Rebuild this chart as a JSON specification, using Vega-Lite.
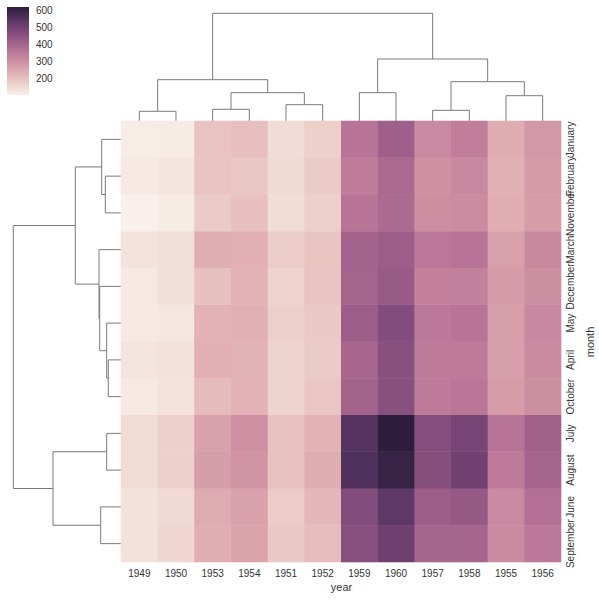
{
  "$schema": "https://vega.github.io/schema/vega-lite/v6.json",
  "background": "white",
  "padding": {"left": 7, "top": 7, "right": 2, "bottom": 2},
  "config": {
    "font": "Liberation Sans",
    "view": {"stroke": null},
    "axis": {"labelColor": "#333333", "titleColor": "#333333", "labelFont": "Liberation Sans", "titleFont": "Liberation Sans", "titleFontWeight": "normal"},
    "legend": {"labelColor": "#333333", "labelFont": "Liberation Sans"}
  },
  "datasets": {
    "topdend": [
      {"xl": 0.5, "xr": 1.5, "dl": 0, "dr": 0, "h": 9.7},
      {"xl": 2.5, "xr": 3.5, "dl": 0, "dr": 0, "h": 11.7},
      {"xl": 4.5, "xr": 5.5, "dl": 0, "dr": 0, "h": 16.3},
      {"xl": 3.0, "xr": 5.0, "dl": 11.7, "dr": 16.3, "h": 28.3},
      {"xl": 1.0, "xr": 4.0, "dl": 9.7, "dr": 28.3, "h": 41.3},
      {"xl": 6.5, "xr": 7.5, "dl": 0, "dr": 0, "h": 28.3},
      {"xl": 8.5, "xr": 9.5, "dl": 0, "dr": 0, "h": 10.7},
      {"xl": 10.5, "xr": 11.5, "dl": 0, "dr": 0, "h": 25.3},
      {"xl": 9.0, "xr": 11.0, "dl": 10.7, "dr": 25.3, "h": 39.3},
      {"xl": 7.0, "xr": 10.0, "dl": 28.3, "dr": 39.3, "h": 62},
      {"xl": 2.5, "xr": 8.5, "dl": 41.3, "dr": 62, "h": 107.7}
    ],
    "leftdend": [
      {"pl": 1.5, "pr": 2.5, "dl": 0, "dr": 0, "h": 15.7},
      {"pl": 0.5, "pr": 2.0, "dl": 0, "dr": 15.7, "h": 19.3},
      {"pl": 6.5, "pr": 7.5, "dl": 0, "dr": 0, "h": 12.7},
      {"pl": 5.5, "pr": 7.0, "dl": 0, "dr": 12.7, "h": 14.3},
      {"pl": 4.5, "pr": 6.25, "dl": 0, "dr": 14.3, "h": 21.3},
      {"pl": 3.5, "pr": 5.375, "dl": 0, "dr": 21.3, "h": 22},
      {"pl": 1.25, "pr": 4.4375, "dl": 19.3, "dr": 22, "h": 45.7},
      {"pl": 8.5, "pr": 9.5, "dl": 0, "dr": 0, "h": 14.3},
      {"pl": 10.5, "pr": 11.5, "dl": 0, "dr": 0, "h": 20.3},
      {"pl": 9.0, "pr": 11.0, "dl": 14.3, "dr": 20.3, "h": 68},
      {"pl": 2.84375, "pr": 10.0, "dl": 45.7, "dr": 68, "h": 107.7}
    ],
    "flights": [
      {"year":"1949","month":"January","passengers":112},{"year":"1949","month":"February","passengers":118},{"year":"1949","month":"March","passengers":132},{"year":"1949","month":"April","passengers":129},{"year":"1949","month":"May","passengers":121},{"year":"1949","month":"June","passengers":135},{"year":"1949","month":"July","passengers":148},{"year":"1949","month":"August","passengers":148},{"year":"1949","month":"September","passengers":136},{"year":"1949","month":"October","passengers":119},{"year":"1949","month":"November","passengers":104},{"year":"1949","month":"December","passengers":118},
      {"year":"1950","month":"January","passengers":115},{"year":"1950","month":"February","passengers":126},{"year":"1950","month":"March","passengers":141},{"year":"1950","month":"April","passengers":135},{"year":"1950","month":"May","passengers":125},{"year":"1950","month":"June","passengers":149},{"year":"1950","month":"July","passengers":170},{"year":"1950","month":"August","passengers":170},{"year":"1950","month":"September","passengers":158},{"year":"1950","month":"October","passengers":133},{"year":"1950","month":"November","passengers":114},{"year":"1950","month":"December","passengers":140},
      {"year":"1951","month":"January","passengers":145},{"year":"1951","month":"February","passengers":150},{"year":"1951","month":"March","passengers":178},{"year":"1951","month":"April","passengers":163},{"year":"1951","month":"May","passengers":172},{"year":"1951","month":"June","passengers":178},{"year":"1951","month":"July","passengers":199},{"year":"1951","month":"August","passengers":199},{"year":"1951","month":"September","passengers":184},{"year":"1951","month":"October","passengers":162},{"year":"1951","month":"November","passengers":146},{"year":"1951","month":"December","passengers":166},
      {"year":"1952","month":"January","passengers":171},{"year":"1952","month":"February","passengers":180},{"year":"1952","month":"March","passengers":193},{"year":"1952","month":"April","passengers":181},{"year":"1952","month":"May","passengers":183},{"year":"1952","month":"June","passengers":218},{"year":"1952","month":"July","passengers":230},{"year":"1952","month":"August","passengers":242},{"year":"1952","month":"September","passengers":209},{"year":"1952","month":"October","passengers":191},{"year":"1952","month":"November","passengers":172},{"year":"1952","month":"December","passengers":194},
      {"year":"1953","month":"January","passengers":196},{"year":"1953","month":"February","passengers":196},{"year":"1953","month":"March","passengers":236},{"year":"1953","month":"April","passengers":235},{"year":"1953","month":"May","passengers":229},{"year":"1953","month":"June","passengers":243},{"year":"1953","month":"July","passengers":264},{"year":"1953","month":"August","passengers":272},{"year":"1953","month":"September","passengers":237},{"year":"1953","month":"October","passengers":211},{"year":"1953","month":"November","passengers":180},{"year":"1953","month":"December","passengers":201},
      {"year":"1954","month":"January","passengers":204},{"year":"1954","month":"February","passengers":188},{"year":"1954","month":"March","passengers":235},{"year":"1954","month":"April","passengers":227},{"year":"1954","month":"May","passengers":234},{"year":"1954","month":"June","passengers":264},{"year":"1954","month":"July","passengers":302},{"year":"1954","month":"August","passengers":293},{"year":"1954","month":"September","passengers":259},{"year":"1954","month":"October","passengers":229},{"year":"1954","month":"November","passengers":203},{"year":"1954","month":"December","passengers":229},
      {"year":"1955","month":"January","passengers":242},{"year":"1955","month":"February","passengers":233},{"year":"1955","month":"March","passengers":267},{"year":"1955","month":"April","passengers":269},{"year":"1955","month":"May","passengers":270},{"year":"1955","month":"June","passengers":315},{"year":"1955","month":"July","passengers":364},{"year":"1955","month":"August","passengers":347},{"year":"1955","month":"September","passengers":312},{"year":"1955","month":"October","passengers":274},{"year":"1955","month":"November","passengers":237},{"year":"1955","month":"December","passengers":278},
      {"year":"1956","month":"January","passengers":284},{"year":"1956","month":"February","passengers":277},{"year":"1956","month":"March","passengers":317},{"year":"1956","month":"April","passengers":313},{"year":"1956","month":"May","passengers":318},{"year":"1956","month":"June","passengers":374},{"year":"1956","month":"July","passengers":413},{"year":"1956","month":"August","passengers":405},{"year":"1956","month":"September","passengers":355},{"year":"1956","month":"October","passengers":306},{"year":"1956","month":"November","passengers":271},{"year":"1956","month":"December","passengers":306},
      {"year":"1957","month":"January","passengers":315},{"year":"1957","month":"February","passengers":301},{"year":"1957","month":"March","passengers":356},{"year":"1957","month":"April","passengers":348},{"year":"1957","month":"May","passengers":355},{"year":"1957","month":"June","passengers":422},{"year":"1957","month":"July","passengers":465},{"year":"1957","month":"August","passengers":467},{"year":"1957","month":"September","passengers":404},{"year":"1957","month":"October","passengers":347},{"year":"1957","month":"November","passengers":305},{"year":"1957","month":"December","passengers":336},
      {"year":"1958","month":"January","passengers":340},{"year":"1958","month":"February","passengers":318},{"year":"1958","month":"March","passengers":362},{"year":"1958","month":"April","passengers":348},{"year":"1958","month":"May","passengers":363},{"year":"1958","month":"June","passengers":435},{"year":"1958","month":"July","passengers":491},{"year":"1958","month":"August","passengers":505},{"year":"1958","month":"September","passengers":404},{"year":"1958","month":"October","passengers":359},{"year":"1958","month":"November","passengers":310},{"year":"1958","month":"December","passengers":337},
      {"year":"1959","month":"January","passengers":360},{"year":"1959","month":"February","passengers":342},{"year":"1959","month":"March","passengers":406},{"year":"1959","month":"April","passengers":396},{"year":"1959","month":"May","passengers":420},{"year":"1959","month":"June","passengers":472},{"year":"1959","month":"July","passengers":548},{"year":"1959","month":"August","passengers":559},{"year":"1959","month":"September","passengers":463},{"year":"1959","month":"October","passengers":407},{"year":"1959","month":"November","passengers":362},{"year":"1959","month":"December","passengers":405},
      {"year":"1960","month":"January","passengers":417},{"year":"1960","month":"February","passengers":391},{"year":"1960","month":"March","passengers":419},{"year":"1960","month":"April","passengers":461},{"year":"1960","month":"May","passengers":472},{"year":"1960","month":"June","passengers":535},{"year":"1960","month":"July","passengers":622},{"year":"1960","month":"August","passengers":606},{"year":"1960","month":"September","passengers":508},{"year":"1960","month":"October","passengers":461},{"year":"1960","month":"November","passengers":390},{"year":"1960","month":"December","passengers":432}
    ]
  },
  "bounds": "flush",
  "spacing": 0,
  "resolve": {"scale": {"color": "independent"}, "legend": {"color": "independent"}},
  "vconcat": [
    {
      "width": 548,
      "height": 108,
      "data": {"name": "topdend"},
      "layer": [
        {"mark": {"type": "rule", "color": "#7a7a7a", "strokeWidth": 1},
         "encoding": {
           "x": {"field": "xl", "type": "quantitative", "axis": null, "scale": {"domain": [-2.945, 12], "nice": false, "zero": false}},
           "y": {"field": "dl", "type": "quantitative", "axis": null, "scale": {"domain": [0, 108], "nice": false}},
           "y2": {"field": "h"}}},
        {"mark": {"type": "rule", "color": "#7a7a7a", "strokeWidth": 1},
         "encoding": {
           "x": {"field": "xr", "type": "quantitative", "axis": null},
           "y": {"field": "dr", "type": "quantitative", "axis": null},
           "y2": {"field": "h"}}},
        {"mark": {"type": "rule", "color": "#7a7a7a", "strokeWidth": 1},
         "encoding": {
           "x": {"field": "xl", "type": "quantitative", "axis": null},
           "x2": {"field": "xr"},
           "y": {"field": "h", "type": "quantitative", "axis": null}}}
      ]
    },
    {
      "bounds": "flush",
      "spacing": 0,
      "resolve": {"scale": {"color": "independent"}, "legend": {"color": "independent"}},
      "hconcat": [
        {
          "width": 108,
          "height": 441,
          "data": {"name": "leftdend"},
          "layer": [
            {"mark": {"type": "rule", "color": "#7a7a7a", "strokeWidth": 1},
             "encoding": {
               "y": {"field": "pl", "type": "quantitative", "axis": null, "scale": {"domain": [0, 12], "nice": false, "reverse": true}},
               "x": {"field": "dl", "type": "quantitative", "axis": null, "scale": {"domain": [0, 108], "nice": false, "reverse": true}},
               "x2": {"field": "h"}}},
            {"mark": {"type": "rule", "color": "#7a7a7a", "strokeWidth": 1},
             "encoding": {
               "y": {"field": "pr", "type": "quantitative", "axis": null},
               "x": {"field": "dr", "type": "quantitative", "axis": null},
               "x2": {"field": "h"}}},
            {"mark": {"type": "rule", "color": "#7a7a7a", "strokeWidth": 1},
             "encoding": {
               "y": {"field": "pl", "type": "quantitative", "axis": null},
               "y2": {"field": "pr"},
               "x": {"field": "h", "type": "quantitative", "axis": null}}}
          ]
        },
        {
          "width": 440,
          "height": 441,
          "data": {"name": "flights"},
          "resolve": {"scale": {"color": "independent"}, "legend": {"color": "independent"}},
          "encoding": {
            "x": {"field": "year", "type": "ordinal",
                  "sort": ["1949","1950","1953","1954","1951","1952","1959","1960","1957","1958","1955","1956"],
                  "scale": {"paddingInner": 0, "paddingOuter": 0},
                  "axis": {"orient": "bottom", "title": "year", "labelAngle": 0, "domain": false, "ticks": false, "labelPadding": 6, "labelFontSize": 10, "titleFontSize": 11, "titlePadding": 3}},
            "y": {"field": "month", "type": "ordinal",
                  "sort": ["January","February","November","March","December","May","April","October","July","August","June","September"],
                  "scale": {"paddingInner": 0, "paddingOuter": 0},
                  "axis": {"orient": "right", "title": "month", "labelAngle": 270, "labelAlign": "center", "labelBaseline": "top", "domain": false, "ticks": false, "labelPadding": 4, "labelFontSize": 10, "titleFontSize": 11, "titleAngle": 270, "titlePadding": 20}}
          },
          "layer": [
            {
              "mark": {"type": "rect", "filled": false, "strokeWidth": 0.6},
              "encoding": {
                "color": {"field": "passengers", "type": "quantitative", "legend": null,
                          "scale": {"domain": [104, 168.75, 233.5, 298.25, 363, 427.75, 492.5, 557.25, 622],
                                    "range": ["#f9f0eb","#edd1cb","#e1b0b4","#cf91a3","#b87496","#9a5b88","#774576","#51315e","#2d1e3e"],
                                    "interpolate": "rgb"}}
              }
            },
            {
              "mark": {"type": "rect"},
              "encoding": {
                "color": {"field": "passengers", "type": "quantitative",
                          "scale": {"domain": [104, 168.75, 233.5, 298.25, 363, 427.75, 492.5, 557.25, 622],
                                    "range": ["#f9f0eb","#edd1cb","#e1b0b4","#cf91a3","#b87496","#9a5b88","#774576","#51315e","#2d1e3e"],
                                    "interpolate": "rgb"},
                          "legend": {"orient": "none", "legendX": -114, "legendY": -114, "title": null, "direction": "vertical", "type": "gradient",
                                     "gradientLength": 88, "gradientThickness": 22, "gradientStrokeWidth": 0,
                                     "values": [200, 300, 400, 500, 600], "labelFontSize": 10, "labelOffset": 7, "labelOverlap": false}}
              }
            }
          ]
        }
      ]
    }
  ]
}
